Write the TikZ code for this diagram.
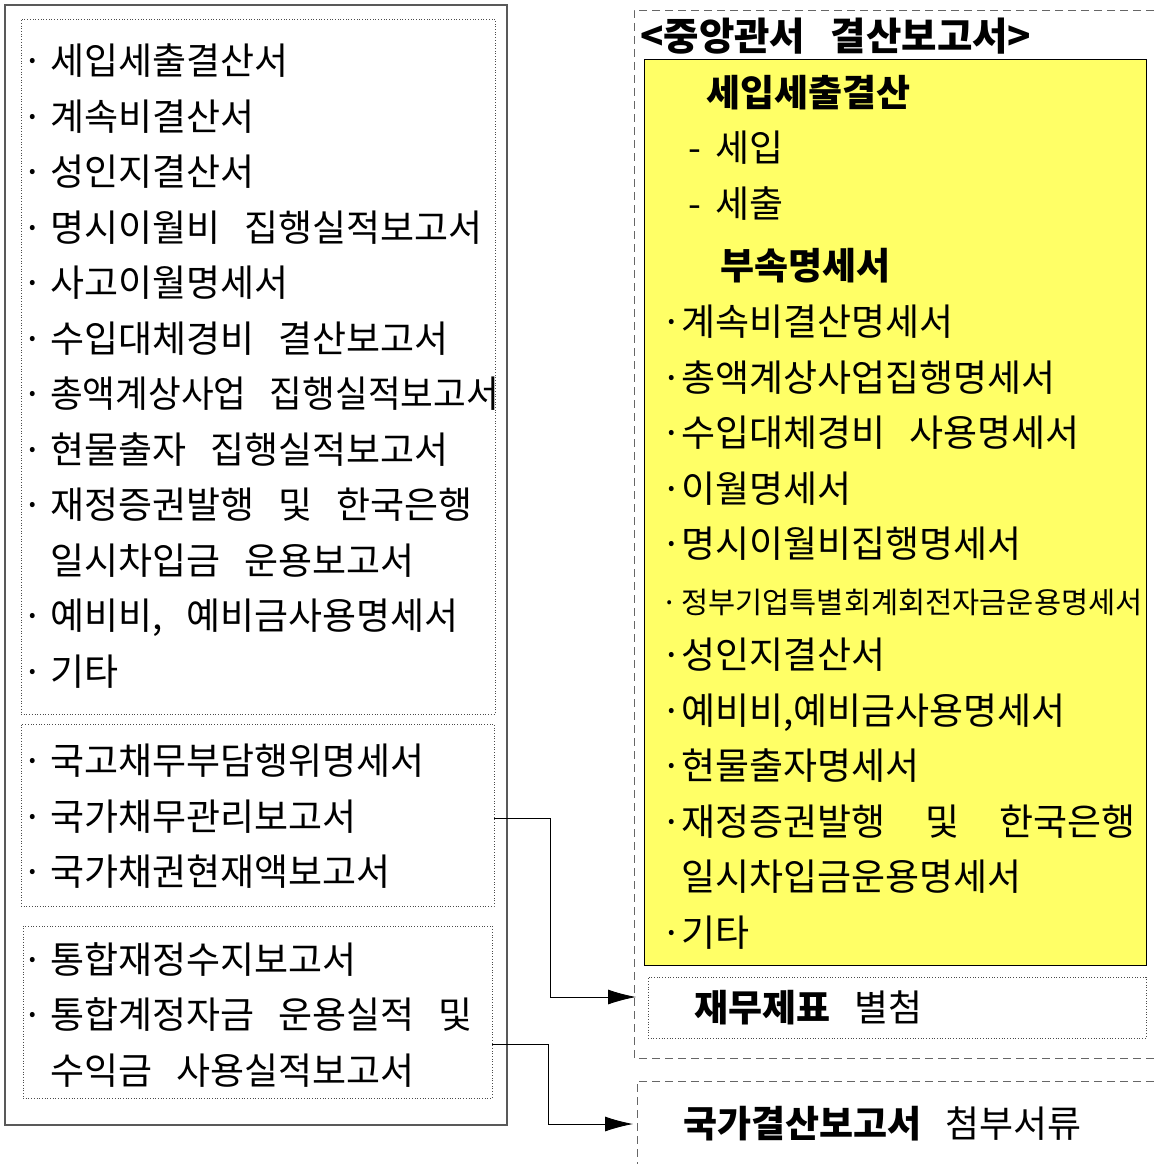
\documentclass[tikz,border=0pt]{standalone}
\usepackage{fontspec}
\usepackage{graphicx}
\setmainfont{Noto Sans CJK KR}[WordSpace=2.9]
\usetikzlibrary{arrows.meta}
\usetikzlibrary{positioning}
\definecolor{memoyellow}{HTML}{FFFF66}
\newcommand{\bul}{\makebox[28pt][l]{·}}
\newcommand{\rbul}{\makebox[20pt][l]{·}}
\tikzset{
  outerbox/.style={draw=black!65,line width=1.5pt},
  dotbox/.style={draw=black!70,dotted,line width=0.7pt,inner sep=0pt},
  dashbox/.style={draw=black!60,line width=0.9pt,dash pattern=on 8pt off 5pt},
  item/.style={anchor=north west,inner sep=0pt,align=left,
                font=\fontsize{37}{55.5}\selectfont},
  conn/.style={line width=0.8pt,-{Latex[length=28pt,width=15pt]}}
}

\begin{document}
\begin{tikzpicture}[x=1pt,y=-1pt]
  \useasboundingbox (0,0) rectangle (1154,1164);

  % LEFT: documents submitted by the ministries
  \node[outerbox,minimum width=502,minimum height=1120] (outer) at (256,565) {};
  \node[dotbox,minimum width=474,minimum height=695] (plan) at (258,366.5) {};
  \node[dotbox,minimum width=473,minimum height=182] (debt) at (257.5,815) {};
  \node[dotbox,minimum width=469,minimum height=172] (fund) at (257.5,1012) {};

  \node[item] (plantxt) at (22,44) {\bul 세입세출결산서\\ \bul 계속비결산서\\ \bul 성인지결산서\\
    \bul 명시이월비 집행실적보고서\\ \bul 사고이월명세서\\ \bul 수입대체경비 결산보고서\\
    \bul\scalebox{0.962}[1]{총액계상사업 집행실적보고서}\\ \bul 현물출자 집행실적보고서\\
    \bul 재정증권발행 및 한국은행\\ \phantom{\bul}일시차입금 운용보고서\\
    \bul 예비비, 예비금사용명세서\\ \bul 기타};
  \node[item] (debttxt) at (22,744) {\bul 국고채무부담행위명세서\\ \bul 국가채무관리보고서\\
    \bul 국가채권현재액보고서};
  \node[item] (fundtxt) at (22,942) {\bul 통합재정수지보고서\\ \bul 통합계정자금 운용실적 및\\
    \phantom{\bul}수익금 사용실적보고서};

  % RIGHT: settlement report of the ministry
  \draw[dashbox] (1154,10) -- (634,10) -- (634,1058) -- (1154,1058);
  \node[item,font=\fontsize{38.5}{40}\selectfont\bfseries] (title) at (640,18) {<중앙관서 결산보고서>};
  \node[draw=black,line width=0.8pt,fill=memoyellow,minimum width=502,minimum height=906]
    (yellow) at (895,512) {};
  \node[item] (settle) at (688,75) {\hspace{18pt}\textbf{세입세출결산}\\ \makebox[27pt][l]{-}세입\\
    \makebox[27pt][l]{-}세출};
  \node[item,font=\fontsize{37}{40}\selectfont\bfseries] (annex) at (720,248) {부속명세서};
  \node[item] (list) at (661,305) {\rbul 계속비결산명세서\\ \rbul 총액계상사업집행명세서\\
    \rbul 수입대체경비 사용명세서\\ \rbul 이월명세서\\ \rbul 명시이월비집행명세서\\
    {\fontsize{29.5}{55.5}\selectfont \rbul 정부기업특별회계회전자금운용명세서}\\ \rbul 성인지결산서\\
    \rbul 예비비,예비금사용명세서\\ \rbul 현물출자명세서\\
    \rbul 재정증권발행\hspace{40pt}및\hspace{40pt}한국은행\\ \phantom{\rbul}일시차입금운용명세서\\
    \rbul 기타};
  \node[dotbox,minimum width=498,minimum height=61] (fin) at (897,1007.5) {};
  \node[item] (fintxt) at (694,990) {\textbf{재무제표} 별첨};

  % BOTTOM RIGHT: attachments of the national report
  \draw[dashbox] (1154,1081) -- (637,1081) -- (637,1164);
  \node[item] (report) at (683,1106) {\textbf{국가결산보고서} 첨부서류};

  % ARROWS
  \coordinate (s1) at (494,818);
  \coordinate (e1) at (636,997);
  \coordinate (s2) at (492,1044);
  \coordinate (e2) at (633,1124);
  \draw[conn] (s1) -- ++(56,0) |- (e1);
  \draw[conn] (s2) -- ++(56,0) |- (e2);
\end{tikzpicture}
\end{document}
